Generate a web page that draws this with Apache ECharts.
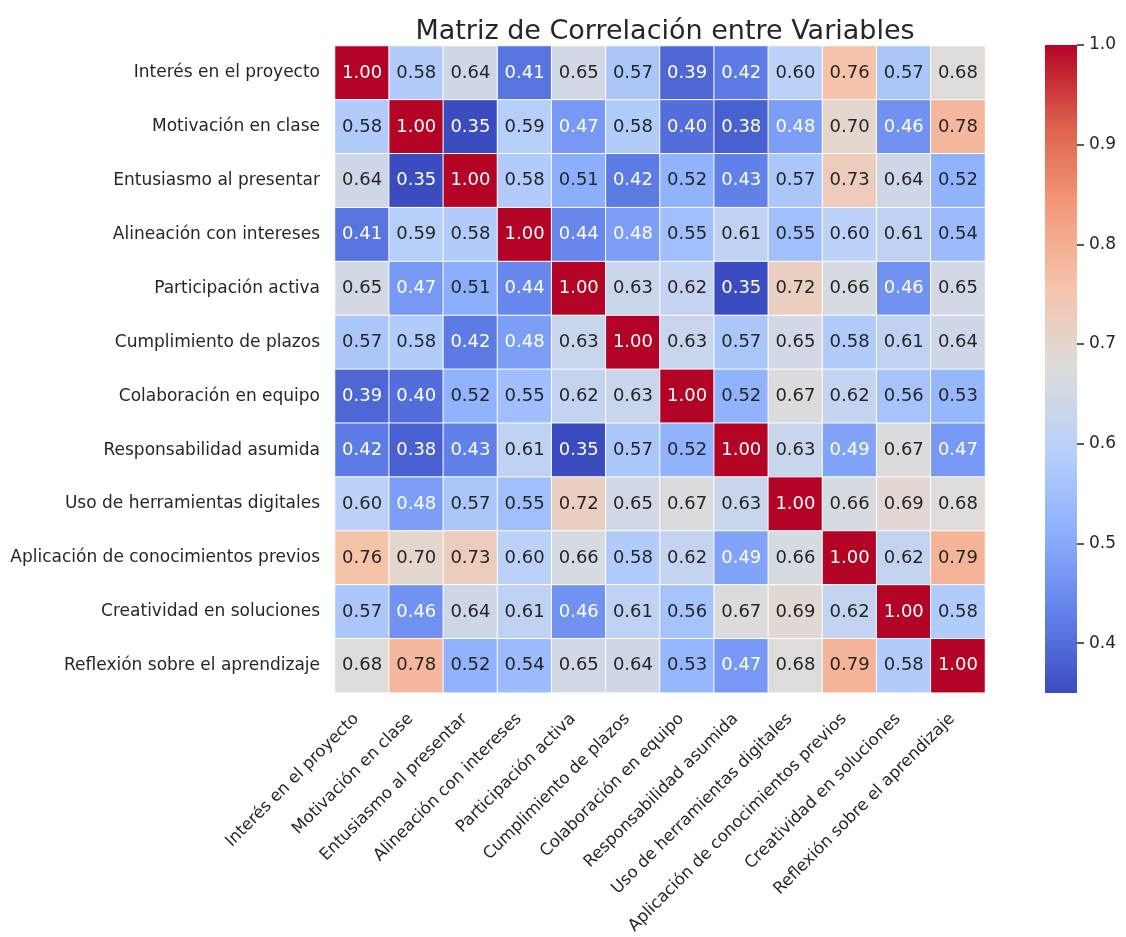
<!DOCTYPE html>
<html>
<head>
<meta charset="utf-8">
<script src="https://cdn.jsdelivr.net/npm/echarts@6/dist/echarts.min.js"></script>
<style>
  html, body { margin: 0; padding: 0; background: #ffffff; }
  #chart { width: 1126px; height: 937px; }
</style>
</head>
<body>
<div id="chart"></div>
<script>
// Variables compared in the correlation matrix
const variables = [
  'Interés en el proyecto',
  'Motivación en clase',
  'Entusiasmo al presentar',
  'Alineación con intereses',
  'Participación activa',
  'Cumplimiento de plazos',
  'Colaboración en equipo',
  'Responsabilidad asumida',
  'Uso de herramientas digitales',
  'Aplicación de conocimientos previos',
  'Creatividad en soluciones',
  'Reflexión sobre el aprendizaje'
];

// Correlation rows, one per variable (same order as above)
const rowInteres       = [1.00, 0.58, 0.64, 0.41, 0.65, 0.57, 0.39, 0.42, 0.60, 0.76, 0.57, 0.68];
const rowMotivacion    = [0.58, 1.00, 0.35, 0.59, 0.47, 0.58, 0.40, 0.38, 0.48, 0.70, 0.46, 0.78];
const rowEntusiasmo    = [0.64, 0.35, 1.00, 0.58, 0.51, 0.42, 0.52, 0.43, 0.57, 0.73, 0.64, 0.52];
const rowAlineacion    = [0.41, 0.59, 0.58, 1.00, 0.44, 0.48, 0.55, 0.61, 0.55, 0.60, 0.61, 0.54];
const rowParticipacion = [0.65, 0.47, 0.51, 0.44, 1.00, 0.63, 0.62, 0.35, 0.72, 0.66, 0.46, 0.65];
const rowCumplimiento  = [0.57, 0.58, 0.42, 0.48, 0.63, 1.00, 0.63, 0.57, 0.65, 0.58, 0.61, 0.64];
const rowColaboracion  = [0.39, 0.40, 0.52, 0.55, 0.62, 0.63, 1.00, 0.52, 0.67, 0.62, 0.56, 0.53];
const rowResponsab     = [0.42, 0.38, 0.43, 0.61, 0.35, 0.57, 0.52, 1.00, 0.63, 0.49, 0.67, 0.47];
const rowHerramientas  = [0.60, 0.48, 0.57, 0.55, 0.72, 0.65, 0.67, 0.63, 1.00, 0.66, 0.69, 0.68];
const rowAplicacion    = [0.76, 0.70, 0.73, 0.60, 0.66, 0.58, 0.62, 0.49, 0.66, 1.00, 0.62, 0.79];
const rowCreatividad   = [0.57, 0.46, 0.64, 0.61, 0.46, 0.61, 0.56, 0.67, 0.69, 0.62, 1.00, 0.58];
const rowReflexion     = [0.68, 0.78, 0.52, 0.54, 0.65, 0.64, 0.53, 0.47, 0.68, 0.79, 0.58, 1.00];

const matrix = [
  rowInteres, rowMotivacion, rowEntusiasmo, rowAlineacion, rowParticipacion,
  rowCumplimiento, rowColaboracion, rowResponsab, rowHerramientas,
  rowAplicacion, rowCreatividad, rowReflexion
];

// Colour bar tick labels
const colorbarTicks = [0.4, 0.5, 0.6, 0.7, 0.8, 0.9, 1.0];

// coolwarm colour ramp (9 evenly spaced stops)
const coolwarm = [
  '#3b4cc0', '#6282ea', '#8db0fe', '#b8d0f9', '#dddcdc',
  '#f5c4ac', '#f49a7b', '#de614d', '#b40426'
];

const FONT = 'DejaVu Sans';
const INK = '#262626';

const allValues = matrix.flat();
const vmin = Math.min(...allValues);
const vmax = Math.max(...allValues);

// Heatmap cells: [column, row, value]; light text on the dark ends of the ramp
const cells = [];
matrix.forEach((row, r) => {
  row.forEach((v, c) => {
    const dark = v < 0.5 || v > 0.92;
    cells.push({
      value: [c, r, v],
      label: { color: dark ? '#ffffff' : INK }
    });
  });
});

const chart = echarts.init(document.getElementById('chart'), null, { renderer: 'canvas' });

// Heatmap area, colour bar, and a thin strip on the bar's right edge for its scale
const grid0 = { left: 335, top: 46, width: 650, height: 651 };
const bar = { left: 1045, top: 45, width: 32, height: 648 };
const scaleStrip = { left: bar.left + bar.width, top: bar.top, width: 1, height: bar.height };

// Vertical gradient for the colour bar (vmax at top, vmin at bottom)
const barGradient = new echarts.graphic.LinearGradient(0, 1, 0, 0,
  coolwarm.map((c, i) => ({ offset: i / (coolwarm.length - 1), color: c }))
);

chart.setOption({
  animation: false,
  backgroundColor: '#ffffff',
  textStyle: { fontFamily: FONT },
  title: {
    text: 'Matriz de Correlación entre Variables',
    left: grid0.left + grid0.width / 2,
    textAlign: 'center',
    top: 13,
    textStyle: { fontFamily: FONT, fontSize: 27, fontWeight: 'normal', color: INK }
  },
  grid: [
    { left: grid0.left, top: grid0.top, width: grid0.width, height: grid0.height, containLabel: false },
    { left: scaleStrip.left, top: scaleStrip.top, width: scaleStrip.width, height: scaleStrip.height, containLabel: false }
  ],
  graphic: [
    {
      type: 'rect',
      left: bar.left,
      top: bar.top,
      shape: { x: 0, y: 0, width: bar.width, height: bar.height },
      style: { fill: barGradient },
      silent: true,
      z: 0
    }
  ],
  xAxis: [
    {
      type: 'category',
      gridIndex: 0,
      data: variables,
      axisLine: { show: false },
      axisTick: { show: false },
      splitLine: { show: false },
      axisLabel: {
        interval: 0,
        rotate: 45,
        margin: 18,
        padding: [0, 8, 0, 0],
        fontFamily: FONT,
        fontSize: 16.5,
        color: INK
      }
    },
    {
      type: 'value',
      gridIndex: 1,
      min: 0,
      max: 1,
      axisLine: { show: false },
      axisTick: { show: false },
      axisLabel: { show: false },
      splitLine: { show: false }
    }
  ],
  yAxis: [
    {
      type: 'category',
      gridIndex: 0,
      data: variables,
      inverse: true,
      axisLine: { show: false },
      axisTick: { show: false },
      splitLine: { show: false },
      axisLabel: {
        interval: 0,
        margin: 15,
        fontFamily: FONT,
        fontSize: 17,
        color: INK
      }
    },
    {
      type: 'value',
      gridIndex: 1,
      position: 'left',
      min: vmin,
      max: vmax,
      axisLine: { show: false },
      splitLine: { show: false },
      axisTick: {
        show: true,
        inside: true,
        length: 7,
        lineStyle: { color: INK, width: 1.5 },
        customValues: colorbarTicks
      },
      axisLabel: {
        inside: true,
        margin: 12,
        fontFamily: FONT,
        fontSize: 17,
        color: INK,
        customValues: colorbarTicks,
        formatter: (v) => v.toFixed(1)
      }
    }
  ],
  visualMap: {
    type: 'continuous',
    show: false,
    min: vmin,
    max: vmax,
    dimension: 2,
    seriesIndex: 0,
    inRange: { color: coolwarm }
  },
  series: [
    {
      type: 'heatmap',
      xAxisIndex: 0,
      yAxisIndex: 0,
      data: cells,
      itemStyle: { borderColor: '#ffffff', borderWidth: 1 },
      label: {
        show: true,
        fontFamily: FONT,
        fontSize: 18,
        formatter: (p) => p.value[2].toFixed(2)
      },
      emphasis: { disabled: true }
    }
  ]
});
</script>
</body>
</html>
